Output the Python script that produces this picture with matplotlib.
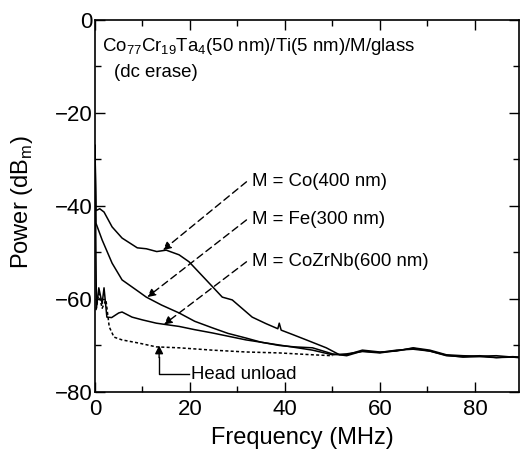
import matplotlib.pyplot as plt
from matplotlib.ticker import MultipleLocator

plt.rcParams['font.family'] = ['Liberation Sans', 'DejaVu Sans']

# values (MHz, dBm)
co_f = [0, 0.2, 1.0, 1.9, 3.6, 5.7, 8.9, 10.8, 13.0, 15.0, 17.7, 19.8, 23.4, 26.8,
        28.9, 33.1, 36.0, 38.5, 38.8, 39.2, 41.5, 44.5, 48.7, 51.5, 53.0, 56.3,
        60.0, 63.5, 67.0, 70.5, 74.0, 77.5, 81.0, 84.5, 88.0, 90.0]
co_p = [-27, -41.0, -40.6, -41.3, -44.5, -46.9, -49.0, -49.2, -49.8, -49.5, -50.5,
        -52.0, -55.9, -59.6, -60.2, -63.9, -65.3, -66.4, -65.2, -66.7, -67.6, -68.8,
        -70.5, -72.0, -72.0, -71.0, -71.4, -71.2, -70.5, -71.0, -72.0, -72.2, -72.3,
        -72.2, -72.5, -72.5]

fe_f = [0, 0.2, 1.5, 3.6, 5.7, 9.3, 10.8, 14.0, 17.7, 21.0, 24.7, 28.0, 31.8, 35.0,
        38.8, 42.0, 45.8, 50.0, 53.0, 56.3, 60.0, 63.5, 67.0, 70.5, 74.0, 77.5,
        81.0, 84.5, 88.0, 90.0]
fe_p = [-27, -43.7, -47.3, -52.3, -55.9, -58.5, -59.6, -61.3, -63.0, -64.8, -66.2,
        -67.4, -68.4, -69.3, -70.0, -70.3, -70.5, -71.8, -72.2, -71.2, -71.5, -71.0,
        -70.8, -71.2, -72.2, -72.4, -72.2, -72.6, -72.4, -72.6]

cozrnb_f = [0, 0.3, 0.8, 1.5, 1.9, 2.5, 3.5, 5.0, 5.7, 7.8, 10.0, 12.9, 15.6, 17.7,
            21.0, 24.7, 28.0, 31.8, 35.0, 38.8, 42.0, 45.8, 50.0, 53.0, 56.3, 60.0,
            63.5, 67.0, 70.5, 74.0, 77.5, 81.0, 84.5, 88.0, 90.0]
cozrnb_p = [-27, -62.0, -57.6, -61.0, -57.6, -63.9, -64.0, -63.0, -62.8, -63.9,
            -64.5, -65.2, -65.6, -65.9, -66.6, -67.3, -68.0, -68.8, -69.3, -69.9,
            -70.4, -71.0, -72.0, -71.8, -71.3, -71.6, -71.1, -70.6, -71.2, -72.1,
            -72.5, -72.4, -72.6, -72.5, -72.7]

head_f = [0.2, 0.8, 1.5, 2.3, 3.0, 4.0, 5.7, 9.3, 12.9, 17.7, 24.7, 31.8, 38.8,
          45.8, 50.0]
head_p = [-62.4, -58.8, -62.0, -60.2, -66.0, -68.2, -68.8, -69.5, -70.3, -70.5,
          -71.0, -71.4, -71.6, -72.0, -72.2]

fig = plt.figure(figsize=(5.2, 4.55), dpi=100)
ax = fig.add_axes([0.1827, 0.1385, 0.8155, 0.8176])

ax.plot(co_f, co_p, color='black', lw=1.1)
ax.plot(fe_f, fe_p, color='black', lw=1.1)
ax.plot(cozrnb_f, cozrnb_p, color='black', lw=1.1)
ax.plot(head_f, head_p, color='black', lw=1.1, ls=(0, (2, 1.5)))

ax.set_xlim(0, 89.3)
ax.set_ylim(-80, 0)
ax.xaxis.set_major_locator(MultipleLocator(20))
ax.xaxis.set_minor_locator(MultipleLocator(10))
ax.yaxis.set_major_locator(MultipleLocator(20))
ax.yaxis.set_minor_locator(MultipleLocator(10))
ax.tick_params(which='both', direction='in', top=True, right=True, labelsize=16, width=1)
ax.tick_params(which='major', length=7)
ax.tick_params(which='minor', length=4)
ax.tick_params(axis='x', pad=5)
ax.tick_params(axis='y', pad=2)
ax.set_yticks([-80, -60, -40, -20, 0])
ax.set_yticklabels(['\u221280', '\u221260', '\u221240', '\u221220', '0'])
for s in ax.spines.values():
    s.set_linewidth(1.2)

ax.set_xlabel('Frequency (MHz)', fontsize=17)
ax.set_ylabel('Power (dB$_\\mathregular{m}$)', fontsize=17)
ax.xaxis.set_label_coords(0.49, -0.093)
ax.yaxis.set_label_coords(-0.142, 0.51)

ax.text(1.5, -5.6, 'Co$_\\mathregular{77}$Cr$_\\mathregular{19}$Ta$_\\mathregular{4}$(50 nm)/Ti(5 nm)/M/glass',
        fontsize=13.4, va='center', ha='left')
ax.text(4.0, -11.2, '(dc erase)', fontsize=13.4, va='center', ha='left')

arrow = dict(arrowstyle='-|>', color='black', lw=1.0, ls=(0, (5, 3)),
             mutation_scale=12, shrinkA=0, shrinkB=0)
labels = ['M = Co(400 nm)', 'M = Fe(300 nm)', 'M = CoZrNb(600 nm)']
label_y = [-34.8, -43.0, -52.0]
tips = [(14.3, -49.5), (11.0, -59.6), (14.5, -65.5)]
for lab, ly, tip in zip(labels, label_y, tips):
    ax.annotate('', xy=tip, xytext=(31.9, ly), arrowprops=arrow)
    ax.text(33.1, ly, lab, fontsize=13.4, va='center', ha='left')

# head unload label with elbow arrow
ax.text(20.3, -76.2, 'Head unload', fontsize=13.4, va='center', ha='left')
ax.plot([19.8, 13.5, 13.5], [-76.2, -76.2, -72.5], color='black', lw=1.0)
ax.annotate('', xy=(13.5, -70.0), xytext=(13.5, -72.6),
            arrowprops=dict(arrowstyle='-|>', color='black', lw=1.0,
                            mutation_scale=12, shrinkA=0, shrinkB=0))

fig.savefig('out.png', dpi=100)
